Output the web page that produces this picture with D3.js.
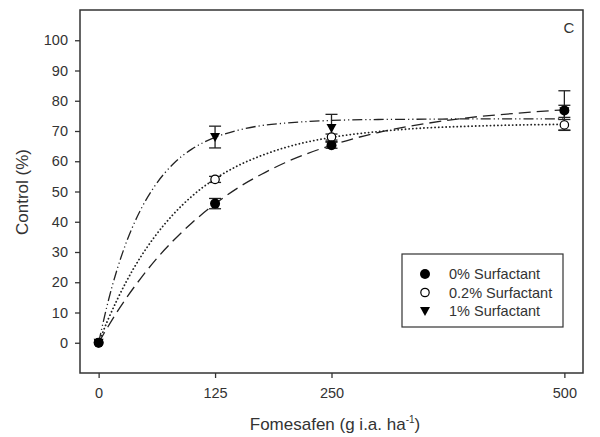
<!DOCTYPE html>
<html>
<head>
<meta charset="utf-8">
<script src="https://cdn.jsdelivr.net/npm/d3@7"></script>
<style>
  html, body { margin: 0; padding: 0; background: #fff; }
  svg { display: block; font-family: "Liberation Sans", Arial, sans-serif; }
</style>
</head>
<body>
<svg id="chart" width="600" height="437"></svg>
<script>
// Fomesafen dose (g i.a. ha-1)
const doses = [0, 125, 250, 500];
const xTicks = [0, 125, 250, 500];
const yTicks = [0, 10, 20, 30, 40, 50, 60, 70, 80, 90, 100];

// Mean control (%) and standard error for each surfactant rate
const control0 = [0, 46, 65.3, 76.8];
const error0 = [0, 1.7, 1.0, 6.5];
const control02 = [0, 54, 68, 72];
const error02 = [0, 1.0, 1.0, 1.8];
const control1 = [0, 68, 71, 76.5];
const error1 = [0, 3.6, 4.5, 2.0];

// Fitted regression curves, sampled along the dose range
const curveDoses = [0, 10, 20, 30, 45, 60, 80, 100, 125, 150, 175, 200, 250, 300, 350, 400, 450, 500];
const fit0 = [0, 5.3, 10.3, 14.9, 21.2, 27.0, 33.7, 39.6, 45.9, 51.3, 55.7, 59.5, 65.3, 69.5, 72.4, 74.5, 75.9, 77.0];
const fit02 = [0, 7.6, 14.3, 20.4, 28.3, 35.0, 42.4, 48.4, 54.2, 58.6, 61.9, 64.5, 67.9, 69.8, 71.0, 71.6, 72.0, 72.2];
const fit1 = [0, 13.4, 24.4, 33.4, 43.9, 51.7, 59.1, 64.0, 67.9, 70.3, 71.8, 72.6, 73.5, 73.8, 73.9, 74.0, 74.0, 74.0];

const legendLabels = ["0% Surfactant", "0.2% Surfactant", "1% Surfactant"];

const svg = d3.select("#chart");
const ink = "#222";
const textColor = "#333";

const plotLeft = 80, plotRight = 583, plotTop = 10, plotBottom = 373;
const x = d3.scaleLinear().domain([-20, 520]).range([plotLeft, plotRight]);
const y = d3.scaleLinear().domain([-10, 110]).range([plotBottom, plotTop]);

// Frame
svg.append("rect")
  .attr("x", plotLeft).attr("y", plotTop)
  .attr("width", plotRight - plotLeft).attr("height", plotBottom - plotTop)
  .attr("fill", "none").attr("stroke", "#333").attr("stroke-width", 1.5);

// Axes
const xAxis = svg.append("g")
  .attr("transform", `translate(0,${plotBottom})`)
  .call(d3.axisBottom(x).tickValues(xTicks).tickSize(5).tickPadding(10).tickFormat(d3.format("d")));
const yAxis = svg.append("g")
  .attr("transform", `translate(${plotLeft},0)`)
  .call(d3.axisLeft(y).tickValues(yTicks).tickSize(5).tickPadding(7).tickFormat(d3.format("d")));
[xAxis, yAxis].forEach(g => {
  g.select(".domain").remove();
  g.selectAll(".tick line").attr("stroke", "#333").attr("stroke-width", 1.3);
  g.selectAll(".tick text").attr("fill", textColor).style("font-size", "14.5px")
    .style("font-family", "'Liberation Sans', Arial, sans-serif");
});

// Axis titles
const xTitle = svg.append("text")
  .attr("x", 335).attr("y", 430)
  .attr("text-anchor", "middle")
  .attr("fill", textColor)
  .style("font-size", "17px");
xTitle.append("tspan").text("Fomesafen (g i.a. ha");
xTitle.append("tspan").attr("dy", -7).style("font-size", "10px").text("-1");
xTitle.append("tspan").attr("dy", 7).text(")");

svg.append("text")
  .attr("transform", "translate(28,192) rotate(-90)")
  .attr("text-anchor", "middle")
  .attr("fill", textColor)
  .style("font-size", "17px")
  .text("Control (%)");

// Panel letter
svg.append("text")
  .attr("x", 569).attr("y", 33)
  .attr("text-anchor", "middle")
  .attr("fill", textColor)
  .style("font-size", "15px")
  .text("C");

// Fitted curves
const line = d3.line()
  .x(d => x(d[0]))
  .y(d => y(d[1]))
  .curve(d3.curveMonotoneX);

const curves = [
  { fit: fit0, dash: "12,6", cap: "butt" },
  { fit: fit02, dash: "0.1,3.6", cap: "round", width: 1.8 },
  { fit: fit1, dash: "10,3,1.2,3,1.2,3", cap: "butt" }
];
curves.forEach(c => {
  svg.append("path")
    .datum(curveDoses.map((d, i) => [d, c.fit[i]]))
    .attr("d", line)
    .attr("fill", "none")
    .attr("stroke", ink)
    .attr("stroke-width", c.width || 1.3)
    .attr("stroke-linecap", c.cap)
    .attr("stroke-dasharray", c.dash);
});

// Error bars
const series = [
  { values: control1, errors: error1, shape: "triangle" },
  { values: control02, errors: error02, shape: "open" },
  { values: control0, errors: error0, shape: "filled" }
];
const capHalf = 6;
series.forEach(s => {
  const g = svg.append("g").attr("stroke", ink).attr("stroke-width", 1.3);
  doses.forEach((d, i) => {
    if (s.errors[i] <= 0) return;
    const cx = x(d);
    const y1 = y(s.values[i] + s.errors[i]);
    const y2 = y(s.values[i] - s.errors[i]);
    g.append("line").attr("x1", cx).attr("x2", cx).attr("y1", y1).attr("y2", y2);
    g.append("line").attr("x1", cx - capHalf).attr("x2", cx + capHalf).attr("y1", y1).attr("y2", y1);
    g.append("line").attr("x1", cx - capHalf).attr("x2", cx + capHalf).attr("y1", y2).attr("y2", y2);
  });
});

// Markers
function drawMarker(sel, shape, cx, cy) {
  if (shape === "triangle") {
    sel.append("path")
      .attr("d", `M${cx - 5},${cy - 4} L${cx + 5},${cy - 4} L${cx},${cy + 5} Z`)
      .attr("fill", "#000");
  } else if (shape === "open") {
    sel.append("circle").attr("cx", cx).attr("cy", cy).attr("r", 4.2)
      .attr("fill", "#fff").attr("stroke", "#000").attr("stroke-width", 1.2);
  } else {
    sel.append("circle").attr("cx", cx).attr("cy", cy).attr("r", 5)
      .attr("fill", "#000");
  }
}
series.forEach(s => {
  const g = svg.append("g");
  doses.forEach((d, i) => drawMarker(g, s.shape, x(d), y(s.values[i])));
});

// Legend
const legend = svg.append("g");
legend.append("rect")
  .attr("x", 402).attr("y", 254).attr("width", 161).attr("height", 73)
  .attr("fill", "#fff").attr("stroke", "#333").attr("stroke-width", 1.2);
const legendShapes = ["filled", "open", "triangle"];
legendLabels.forEach((label, i) => {
  const ry = 274 + i * 18.5;
  drawMarker(legend, legendShapes[i], 425, ry);
  legend.append("text")
    .attr("x", 449).attr("y", ry + 5)
    .attr("fill", textColor)
    .style("font-size", "14.5px")
    .text(label);
});
</script>
</body>
</html>
